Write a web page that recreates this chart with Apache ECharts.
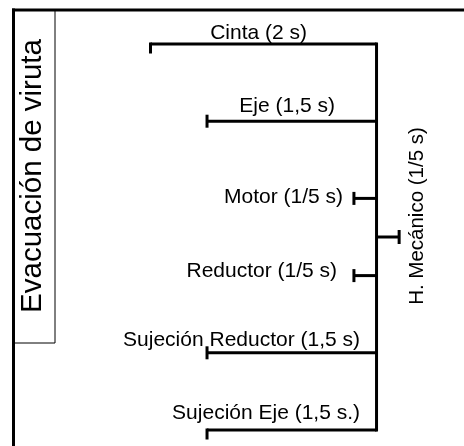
<!DOCTYPE html>
<html><head><meta charset="utf-8">
<script src="https://cdn.jsdelivr.net/npm/echarts@6/dist/echarts.min.js"></script>
<style>html,body{margin:0;padding:0;background:#fff}#c{width:464px;height:446px}</style>
</head><body><div id="c"></div>
<script>
// ---- data ----
const causes = ['Cinta (2 s)', 'Eje (1,5 s)', 'Motor (1/5 s)', 'Reductor (1/5 s)', 'Sujeción Reductor (1,5 s)', 'Sujeción Eje (1,5 s.)'];
const causeTimes = [2, 1.5, 0.2, 0.2, 1.5, 1.5];   // seconds
const effectName = 'H. Mecánico (1/5 s)';
const effectTime = 0.2;                            // seconds
const categoryName = 'Evacuación de viruta';

// ---- layout (label offsets from spine point, px) ----
const labelDx = [-69.5, -41.5, -33.5, -39.5, -16.5, -16.5];
const labelDy = [-11, -15, -1, -4, -13, -17];

const FONT = '"Liberation Sans", Arial, sans-serif';
const chart = echarts.init(document.getElementById('c'), null, {renderer: 'canvas'});

const causeData = causes.map((c, i) => [i, causeTimes[i]]);
const n = causes.length;

function renderCause(params, api) {
  const i = api.value(0), t = api.value(1);
  const p0 = api.coord([0, i]);
  const p1 = api.coord([-t, i]);
  const edge = (i === 0 || i === n - 1);
  const up = edge ? -1.5 : -6.5;
  const down = edge ? 9.5 : 6.5;
  return {type: 'group', children: [
    {type: 'line', shape: {x1: p1[0], y1: p1[1], x2: p0[0], y2: p0[1]}, style: {stroke: '#000', lineWidth: 3}},
    {type: 'line', shape: {x1: p1[0], y1: p1[1] + up, x2: p1[0], y2: p1[1] + down}, style: {stroke: '#000', lineWidth: 3}},
    {type: 'text', x: p0[0] + labelDx[i], y: p0[1] + labelDy[i],
     style: {text: causes[i], fontSize: 21, fontFamily: FONT, fill: '#000', align: 'right', verticalAlign: 'middle'}}
  ]};
}

function renderSpine(params, api) {
  const a = api.coord([0, 0]);
  const b = api.coord([0, n - 1]);
  const m = api.coord([0, (n - 1) / 2]);
  const e = api.coord([effectTime, (n - 1) / 2]);
  return {type: 'group', children: [
    {type: 'line', shape: {x1: a[0], y1: a[1] - 1.5, x2: b[0], y2: b[1] + 1.5}, style: {stroke: '#000', lineWidth: 3}},
    {type: 'line', shape: {x1: m[0], y1: m[1], x2: e[0], y2: e[1]}, style: {stroke: '#000', lineWidth: 3}},
    {type: 'line', shape: {x1: e[0], y1: e[1] - 7, x2: e[0], y2: e[1] + 7}, style: {stroke: '#000', lineWidth: 3}},
    {type: 'text', x: m[0] + 40.5, y: m[1] - 21, rotation: Math.PI / 2,
     style: {text: effectName, fontSize: 20.5, fontFamily: FONT, fill: '#000', align: 'center', verticalAlign: 'middle'}}
  ]};
}

chart.setOption({
  animation: false,
  backgroundColor: '#fff',
  grid: {left: 0, right: 0, top: 44, bottom: 16},
  xAxis: {type: 'value', min: -3.332, max: 0.774, show: false},
  yAxis: {type: 'value', min: 0, max: n - 1, inverse: true, show: false},
  graphic: [
    {type: 'rect', shape: {x: 13.5, y: 10, width: 41.5, height: 333}, style: {fill: '#fff', stroke: '#000', lineWidth: 1}},
    {type: 'line', shape: {x1: 12, y1: 10, x2: 464, y2: 10}, style: {stroke: '#000', lineWidth: 3}},
    {type: 'line', shape: {x1: 13.5, y1: 8.5, x2: 13.5, y2: 446}, style: {stroke: '#000', lineWidth: 3}},
    {type: 'text', x: 33, y: 176, rotation: Math.PI / 2,
     style: {text: categoryName, fontSize: 29.5, fontFamily: FONT, fill: '#000', align: 'center', verticalAlign: 'middle'}}
  ],
  series: [
    {type: 'custom', coordinateSystem: 'cartesian2d', renderItem: renderSpine, data: [[0, 0]], silent: true},
    {type: 'custom', coordinateSystem: 'cartesian2d', renderItem: renderCause, data: causeData, silent: true}
  ]
});
</script></body></html>
